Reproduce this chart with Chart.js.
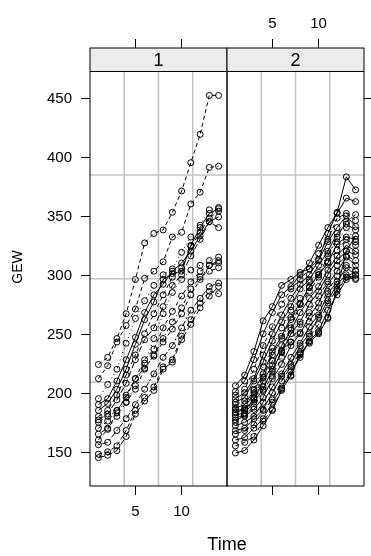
<!DOCTYPE html>
<html>
<head>
<meta charset="utf-8">
<script src="https://cdn.jsdelivr.net/npm/chart.js@4/dist/chart.umd.min.js"></script>
<style>
  body { margin: 0; background: #fff; }
  canvas { display: block; }
</style>
</head>
<body>
<canvas id="gewChart" width="371" height="556"></canvas>
<script>
// Time points measured in both groups
const times = [1, 2, 3, 4, 5, 6, 7, 8, 9, 10, 11, 12, 13, 14]
const panelLabels = ['1', '2']
const xTickValues = [5, 10]
const yTickValues = [150, 200, 250, 300, 350, 400, 450]

// GEW per subject, group 1 (left panel)
const group1 = [
  [225, 231, 247, 268, 297, 328, 336, 339, 354, 372, 396, 420, 453, 453],
  [213, 224, 244, 258, 272, 298, 304, 312, 333, 337, 361, 371, 392, 393],
  [196, 208, 221, 243, 264, 279, 292, 301, 306, 320, 333, 343, 356, 358],
  [186, 192, 204, 221, 242, 263, 278, 297, 302, 304, 326, 341, 353, 357],
  [181, 186, 199, 216, 233, 251, 268, 284, 299, 307, 325, 337, 349, 355],
  [178, 183, 195, 209, 229, 246, 256, 274, 292, 301, 317, 331, 346, 341],
  [176, 181, 186, 193, 207, 226, 247, 268, 286, 297, 305, 309, 313, 316],
  [171, 177, 186, 197, 213, 229, 238, 256, 270, 283, 295, 304, 309, 311],
  [166, 171, 181, 193, 204, 221, 233, 247, 261, 273, 289, 299, 304, 307],
  [161, 170, 184, 199, 213, 222, 232, 244, 255, 268, 284, 297, 309, 313],
  [157, 159, 169, 179, 191, 204, 217, 231, 241, 256, 271, 281, 291, 294],
  [149, 151, 156, 169, 186, 197, 206, 223, 229, 249, 263, 277, 287, 285],
  [146, 148, 152, 164, 183, 194, 203, 221, 227, 246, 259, 273, 283, 291],
  [191, 196, 211, 229, 248, 269, 284, 293, 304, 311, 321, 334, 346, 350]
]

// GEW per subject, group 2 (right panel)
const group2 = [
  [207, 216, 236, 262, 274, 292, 297, 303, 306, 314, 336, 354, 384, 373],
  [202, 211, 229, 251, 269, 284, 291, 301, 311, 326, 341, 353, 366, 363],
  [199, 204, 221, 241, 257, 276, 289, 297, 306, 319, 331, 349, 353, 347],
  [196, 201, 213, 233, 251, 267, 281, 293, 301, 313, 329, 341, 351, 342],
  [193, 197, 211, 227, 245, 261, 274, 289, 297, 309, 321, 336, 344, 339],
  [191, 194, 204, 223, 239, 256, 271, 281, 295, 303, 319, 329, 341, 329],
  [188, 191, 203, 217, 236, 249, 265, 277, 291, 301, 311, 327, 333, 331],
  [187, 186, 196, 206, 219, 236, 256, 276, 290, 301, 312, 322, 331, 326],
  [184, 187, 195, 211, 224, 241, 254, 269, 281, 291, 305, 317, 326, 321],
  [182, 184, 193, 204, 221, 235, 251, 261, 276, 287, 301, 313, 321, 318],
  [180, 182, 189, 203, 215, 231, 244, 259, 269, 283, 295, 309, 317, 313],
  [178, 181, 187, 197, 213, 225, 241, 251, 266, 277, 293, 304, 316, 309],
  [176, 183, 197, 214, 228, 237, 244, 252, 261, 273, 287, 300, 309, 305],
  [173, 176, 181, 193, 206, 217, 231, 243, 257, 267, 285, 295, 307, 301],
  [169, 171, 179, 187, 201, 215, 225, 241, 251, 265, 279, 293, 301, 298],
  [166, 169, 174, 186, 195, 211, 223, 235, 249, 259, 277, 289, 299, 297],
  [161, 163, 171, 179, 193, 205, 219, 231, 245, 253, 271, 284, 297, 301],
  [156, 159, 164, 177, 187, 204, 215, 233, 243, 252, 265, 287, 299, 304],
  [150, 152, 161, 173, 186, 203, 216, 234, 244, 251, 264, 289, 321, 334],
  [185, 188, 201, 214, 233, 247, 263, 276, 287, 299, 317, 333, 346, 352]
]

// line types per subject (R lty numbers)
const ltyGroup1 = [2, 2, 3, 1, 2, 5, 3, 2, 4, 2, 6, 2, 5, 1]
const ltyGroup2 = [1, 1, 2, 1, 1, 3, 1, 2, 1, 1, 4, 1, 2, 1, 1, 5, 1, 2, 1, 6]
const dashes = { 1: [], 2: [4, 3], 3: [1, 3], 4: [1, 3, 4, 3], 5: [6, 3], 6: [2, 2, 6, 2] }

// axis limits (lattice pads the data range a little)
const xMin = 0.09
const xSpan = 14.82
const yMin = 122
const yPanelTop = 473.3
const yStripTop = 493.2

const FONT = "'Liberation Sans', Arial, sans-serif"
const gridColor = '#c4c4c4'
const stripColor = '#ececec'

const datasets = [group1, group2].flatMap((group, p) => {
  const lty = p === 0 ? ltyGroup1 : ltyGroup2
  return group.map((vals, i) => ({
    data: vals.map((v, j) => ({ x: times[j] + p * xSpan, y: v })),
    borderColor: '#000',
    borderWidth: 1,
    borderDash: dashes[lty[i]],
    pointRadius: 3,
    pointBorderWidth: 1,
    pointBorderColor: '#000',
    pointBackgroundColor: 'rgba(0,0,0,0)',
    fill: false,
    tension: 0
  }))
})

// panel grid, strips and frames, drawn like lattice does
const latticePlugin = {
  id: 'lattice',
  beforeDatasetsDraw (chart) {
    const { ctx, scales: { x, y } } = chart
    const top = y.getPixelForValue(yPanelTop)
    const bottom = y.getPixelForValue(yMin)
    ctx.save()
    ctx.strokeStyle = gridColor
    ctx.lineWidth = 1.5
    for (let p = 0; p < 2; p++) {
      const left = x.getPixelForValue(xMin + p * xSpan)
      const right = x.getPixelForValue(xMin + (p + 1) * xSpan)
      for (let k = 1; k < 4; k++) {
        const gx = x.getPixelForValue(xMin + p * xSpan + xSpan * k / 4)
        ctx.beginPath()
        ctx.moveTo(gx, top)
        ctx.lineTo(gx, bottom)
        ctx.stroke()
        const gy = y.getPixelForValue(yMin + (yPanelTop - yMin) * k / 4)
        ctx.beginPath()
        ctx.moveTo(left, gy)
        ctx.lineTo(right, gy)
        ctx.stroke()
      }
    }
    ctx.restore()
  },
  afterDatasetsDraw (chart) {
    const { ctx, scales: { x, y } } = chart
    const stripTop = y.getPixelForValue(yStripTop)
    const top = y.getPixelForValue(yPanelTop)
    const bottom = y.getPixelForValue(yMin)
    ctx.save()
    for (let p = 0; p < 2; p++) {
      const left = x.getPixelForValue(xMin + p * xSpan)
      const right = x.getPixelForValue(xMin + (p + 1) * xSpan)
      ctx.fillStyle = stripColor
      ctx.fillRect(left, stripTop, right - left, top - stripTop)
      ctx.fillStyle = '#000'
      ctx.font = `18px ${FONT}`
      ctx.textAlign = 'center'
      ctx.textBaseline = 'middle'
      ctx.fillText(panelLabels[p], (left + right) / 2, (stripTop + top) / 2 + 1)
      ctx.strokeStyle = '#000'
      ctx.lineWidth = 1
      ctx.strokeRect(left, stripTop, right - left, bottom - stripTop)
      ctx.beginPath()
      ctx.moveTo(left, top)
      ctx.lineTo(right, top)
      ctx.stroke()
    }
    ctx.restore()
  }
}

const tickFont = { family: FONT, size: 15 }
const tickGrid = { display: true, drawOnChartArea: false, drawTicks: true, tickLength: 9, color: '#000' }
const xTicksAll = () => xTickValues.concat(xTickValues.map(v => v + xSpan)).map(v => ({ value: v }))
const yTicksAll = () => yTickValues.map(v => ({ value: v }))

new Chart(document.getElementById('gewChart').getContext('2d'), {
  type: 'line',
  data: { datasets },
  options: {
    responsive: false,
    animation: false,
    layout: { padding: 0 },
    plugins: {
      legend: { display: false },
      tooltip: { enabled: false }
    },
    scales: {
      x: {
        type: 'linear',
        position: 'bottom',
        min: xMin,
        max: xMin + 2 * xSpan,
        afterBuildTicks: (scale) => { scale.ticks = xTicksAll() },
        afterFit: (scale) => { scale.height = 70 },
        grid: tickGrid,
        border: { display: false },
        ticks: {
          font: tickFont,
          color: '#000',
          padding: 8,
          autoSkip: false,
          maxRotation: 0,
          callback: (value, index) => index < 2 ? String(value) : ''
        },
        title: { display: true, text: 'Time', color: '#000', font: { family: FONT, size: 18 }, padding: { top: 0, bottom: 0 } }
      },
      xTop: {
        type: 'linear',
        axis: 'x',
        position: 'top',
        min: xMin,
        max: xMin + 2 * xSpan,
        afterBuildTicks: (scale) => { scale.ticks = xTicksAll() },
        afterFit: (scale) => { scale.height = 48 },
        grid: tickGrid,
        border: { display: false },
        ticks: {
          font: tickFont,
          color: '#000',
          padding: 6,
          autoSkip: false,
          maxRotation: 0,
          callback: (value, index) => index >= 2 ? String(xTickValues[index - 2]) : ''
        }
      },
      y: {
        type: 'linear',
        position: 'left',
        min: yMin,
        max: yStripTop,
        afterBuildTicks: (scale) => { scale.ticks = yTicksAll() },
        afterFit: (scale) => { scale.width = 90 },
        grid: tickGrid,
        border: { display: false },
        ticks: { font: tickFont, color: '#000', padding: 9, autoSkip: false },
        title: { display: true, text: 'GEW', color: '#000', font: { family: FONT, size: 14 }, padding: { top: 10, bottom: 0 } }
      },
      yRight: {
        type: 'linear',
        axis: 'y',
        position: 'right',
        min: yMin,
        max: yStripTop,
        afterBuildTicks: (scale) => { scale.ticks = yTicksAll() },
        afterFit: (scale) => { scale.width = 7 },
        grid: tickGrid,
        border: { display: false },
        ticks: { font: tickFont, color: '#000', padding: 2, autoSkip: false, callback: () => '' }
      }
    }
  },
  plugins: [latticePlugin]
})
</script>
</body>
</html>
